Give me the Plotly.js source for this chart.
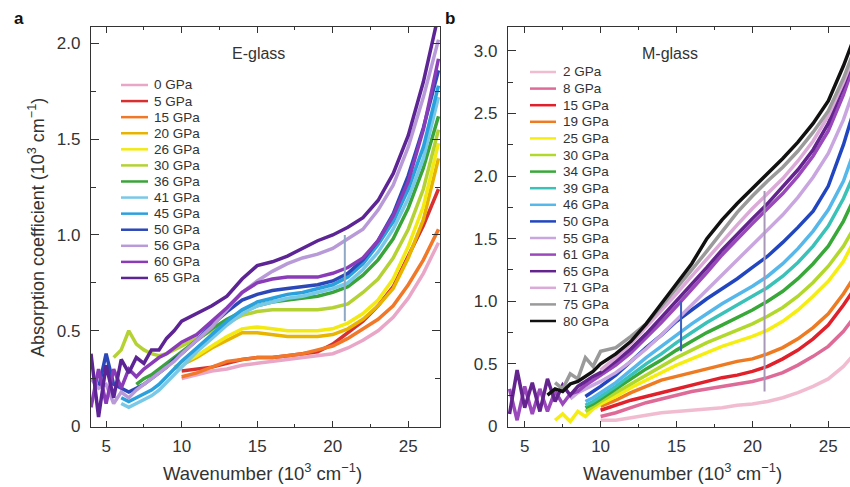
<!DOCTYPE html>
<html><head><meta charset="utf-8">
<script src="https://cdn.plot.ly/plotly-3.0.1.min.js"></script>
<style>html,body{margin:0;padding:0;background:#fff;overflow:hidden}#chart{width:850px;height:487px}</style>
</head><body><div id="chart"></div>
<script>
const N = null;
// shared wavenumber grid (10^3 cm^-1)
const wavenumber = [4,4.5,5,5.5,6,6.5,7,7.5,8,8.5,9,9.5,10,11,12,13,14,15,16,17,18,19,20,21,22,23,24,25,26,27];

// ---- Panel a: E-glass ----
const eGlassLabels = ['0 GPa','5 GPa','15 GPa','20 GPa','26 GPa','30 GPa','36 GPa','41 GPa','45 GPa','50 GPa','56 GPa','60 GPa','65 GPa'];
const eGlassColors = ['#eaa6c6','#d83030','#f07828','#e8b400','#f2ea10','#b4d234','#3aa43a','#78c8e8','#2aa0dc','#2c48b8','#b89ad8','#8a3cb8','#5c2494'];
const eG0  = [N,N,N,N,N,N,N,N,N,N,N,N,0.25,0.27,0.29,0.30,0.32,0.33,0.34,0.35,0.36,0.37,0.38,0.41,0.45,0.50,0.57,0.67,0.80,0.96];
const eG5  = [N,N,N,N,N,N,N,N,N,N,N,N,0.29,0.30,0.31,0.33,0.35,0.36,0.36,0.37,0.38,0.39,0.43,0.49,0.55,0.63,0.73,0.89,1.05,1.24];
const eG15 = [N,N,N,N,N,N,N,N,N,N,N,N,0.26,0.28,0.31,0.34,0.35,0.36,0.36,0.37,0.38,0.40,0.42,0.46,0.51,0.56,0.63,0.74,0.87,1.03];
const eG20 = [N,N,N,N,N,N,N,N,N,N,N,0.30,0.32,0.36,0.41,0.45,0.49,0.49,0.48,0.47,0.47,0.47,0.48,0.51,0.56,0.63,0.72,0.88,1.08,1.40];
const eG26 = [N,N,N,N,N,N,N,N,N,N,N,0.31,0.33,0.37,0.42,0.47,0.51,0.52,0.51,0.50,0.50,0.50,0.51,0.54,0.59,0.66,0.77,0.94,1.15,1.48];
const eG30 = [N,N,N,0.36,0.40,0.50,0.43,0.40,0.38,0.37,0.38,0.40,0.42,0.46,0.50,0.54,0.58,0.60,0.61,0.61,0.61,0.61,0.62,0.64,0.70,0.77,0.88,1.03,1.24,1.55];
const eG36 = [N,N,N,N,N,N,0.22,0.25,0.27,0.30,0.33,0.36,0.39,0.45,0.51,0.56,0.60,0.63,0.65,0.66,0.67,0.68,0.70,0.73,0.79,0.87,0.98,1.14,1.35,1.62];
const eG41 = [N,N,N,N,0.12,0.10,0.12,0.14,0.16,0.19,0.23,0.27,0.31,0.39,0.46,0.53,0.59,0.63,0.65,0.67,0.68,0.70,0.72,0.75,0.82,0.91,1.03,1.19,1.40,1.72];
const eG45 = [N,N,N,N,0.15,0.13,0.15,0.17,0.19,0.22,0.26,0.30,0.34,0.41,0.48,0.55,0.61,0.65,0.67,0.69,0.70,0.72,0.74,0.78,0.85,0.95,1.07,1.24,1.46,1.78];
const eG50 = [N,0.20,0.38,0.22,0.20,0.18,0.20,0.22,0.25,0.28,0.31,0.35,0.38,0.45,0.53,0.60,0.66,0.69,0.71,0.72,0.73,0.74,0.76,0.80,0.87,0.97,1.11,1.31,1.56,1.86];
const eG56 = [0.25,0.20,0.22,0.12,0.18,0.15,0.19,0.22,0.25,0.28,0.31,0.34,0.38,0.45,0.52,0.61,0.70,0.76,0.81,0.85,0.88,0.90,0.93,0.98,1.03,1.13,1.26,1.46,1.72,2.02];
const eG60 = [0.10,0.30,0.12,0.30,0.20,0.30,0.26,0.30,0.33,0.36,0.38,0.41,0.44,0.48,0.55,0.62,0.70,0.75,0.77,0.78,0.78,0.78,0.80,0.83,0.88,0.97,1.10,1.28,1.55,1.92];
const eG65 = [0.38,0.05,0.32,0.15,0.35,0.28,0.36,0.33,0.40,0.40,0.46,0.50,0.55,0.59,0.63,0.68,0.77,0.84,0.86,0.89,0.93,0.97,1.00,1.04,1.09,1.18,1.32,1.52,1.80,2.15];
const eGlassSeries = [eG0,eG5,eG15,eG20,eG26,eG30,eG36,eG41,eG45,eG50,eG56,eG60,eG65];
// measurement artefact (vertical spike) seen in panel a
const eSpikeX = [20.8, 20.8];
const eSpikeY = [0.55, 1.00];

// ---- Panel b: M-glass ----
const mGlassLabels = ['2 GPa','8 GPa','15 GPa','19 GPa','25 GPa','30 GPa','34 GPa','39 GPa','46 GPa','50 GPa','55 GPa','61 GPa','65 GPa','71 GPa','75 GPa','80 GPa'];
const mGlassColors = ['#f2bcd0','#de6a98','#e0202a','#ee7a22','#f6ee10','#b2d82c','#38a838','#3ac2b8','#56b8ea','#2246c0','#c9a6e0','#9a48bc','#64248e','#dcaad8','#9a9a9a','#111111'];
const mG2  = [N,N,N,N,N,N,N,N,N,N,N,N,0.05,0.05,0.07,0.09,0.11,0.12,0.13,0.14,0.15,0.17,0.18,0.20,0.23,0.27,0.32,0.38,0.48,0.62];
const mG8  = [N,N,N,N,N,N,N,N,N,N,N,N,0.08,0.11,0.15,0.19,0.22,0.25,0.28,0.30,0.32,0.34,0.36,0.39,0.43,0.49,0.56,0.64,0.76,0.92];
const mG15 = [N,N,N,N,N,N,N,N,N,N,N,N,0.13,0.17,0.21,0.24,0.27,0.30,0.33,0.36,0.39,0.41,0.44,0.48,0.54,0.61,0.70,0.81,0.97,1.15];
const mG19 = [N,N,N,N,N,N,N,N,N,N,N,N,0.16,0.21,0.27,0.32,0.37,0.40,0.43,0.46,0.49,0.52,0.54,0.58,0.63,0.70,0.79,0.90,1.06,1.25];
const mG25 = [N,N,N,N,N,N,0.05,0.10,0.04,0.12,0.08,0.14,0.18,0.24,0.31,0.37,0.43,0.49,0.54,0.59,0.64,0.68,0.72,0.77,0.84,0.93,1.04,1.16,1.32,1.55];
const mG30 = [N,N,N,N,N,N,N,N,N,N,0.12,0.16,0.20,0.27,0.34,0.41,0.48,0.55,0.61,0.67,0.72,0.77,0.82,0.88,0.95,1.04,1.15,1.28,1.44,1.65];
const mG34 = [N,N,N,N,N,N,N,N,N,N,0.15,0.18,0.22,0.30,0.38,0.46,0.53,0.61,0.68,0.75,0.81,0.87,0.93,1.00,1.08,1.18,1.30,1.44,1.64,1.90];
const mG39 = [N,N,N,N,N,N,N,N,N,N,0.17,0.20,0.24,0.32,0.41,0.50,0.58,0.67,0.75,0.83,0.90,0.97,1.04,1.11,1.20,1.31,1.44,1.60,1.82,2.10];
const mG46 = [N,N,N,N,N,N,N,N,N,N,0.20,0.23,0.27,0.35,0.45,0.55,0.64,0.73,0.82,0.90,0.98,1.05,1.12,1.20,1.30,1.42,1.56,1.73,1.96,2.30];
const mG50 = [N,N,N,N,N,N,N,N,N,N,0.24,0.28,0.32,0.41,0.52,0.63,0.73,0.84,0.93,1.02,1.10,1.18,1.27,1.36,1.47,1.59,1.72,1.92,2.25,2.65];
const mG55 = [N,N,N,N,N,N,N,N,0.22,0.27,0.30,0.33,0.36,0.43,0.52,0.62,0.73,0.85,0.97,1.09,1.21,1.33,1.45,1.57,1.69,1.83,1.99,2.18,2.45,2.80];
const mG61 = [0.30,0.05,0.32,0.10,0.30,0.12,0.28,0.18,0.26,0.28,0.33,0.37,0.41,0.49,0.59,0.71,0.83,0.96,1.09,1.23,1.37,1.50,1.62,1.74,1.86,2.00,2.16,2.36,2.65,3.00];
const mG65 = [0.10,0.45,0.15,0.35,0.12,0.38,0.20,0.33,0.25,0.32,0.36,0.40,0.43,0.52,0.62,0.74,0.87,1.00,1.13,1.27,1.41,1.54,1.66,1.78,1.91,2.05,2.21,2.42,2.72,3.05];
const mG71 = [N,N,N,N,N,N,N,N,N,N,N,N,0.45,0.55,0.66,0.79,0.92,1.06,1.20,1.34,1.48,1.61,1.74,1.86,1.98,2.12,2.28,2.48,2.75,3.05];
const mG75 = [N,N,N,N,N,N,0.35,0.30,0.42,0.38,0.55,0.48,0.60,0.63,0.72,0.82,0.96,1.10,1.25,1.40,1.56,1.71,1.84,1.96,2.07,2.20,2.35,2.52,2.78,3.10];
const mG80 = [N,N,N,N,N,0.25,0.30,0.28,0.34,0.36,0.40,0.44,0.50,0.58,0.68,0.82,0.98,1.14,1.30,1.50,1.65,1.78,1.90,2.02,2.14,2.27,2.42,2.60,2.88,3.20];
const mGlassSeries = [mG2,mG8,mG15,mG19,mG25,mG30,mG34,mG39,mG46,mG50,mG55,mG61,mG65,mG71,mG75,mG80];
// measurement artefacts (vertical spikes) seen in panel b
const mSpike1X = [15.3, 15.3];
const mSpike1Y = [0.60, 1.00];
const mSpike2X = [20.8, 20.8];
const mSpike2Y = [0.28, 1.88];

// tick labels
const xTickVals = [5,10,15,20,25];
const xTickText = ['5','10','15','20','25'];
const yATickVals = [0,0.5,1,1.5,2];
const yATickText = ['0','0.5','1.0','1.5','2.0'];
const yBTickVals = [0,0.5,1,1.5,2,2.5,3];
const yBTickText = ['0','0.5','1.0','1.5','2.0','2.5','3.0'];

const W = 850, H = 487;
const px = x => x / W, py = y => 1 - y / H;
const INK = '#333';
const FONT = 'Liberation Sans, Arial, Helvetica, sans-serif';

const traces = [];
eGlassSeries.forEach((s, i) => traces.push({x: wavenumber, y: s, type: 'scatter', mode: 'lines',
  line: {color: eGlassColors[i], width: 3.5}, xaxis: 'x', yaxis: 'y', hoverinfo: 'skip', showlegend: false}));
traces.push({x: eSpikeX, y: eSpikeY, type: 'scatter', mode: 'lines', line: {color: '#8fa8c4', width: 2},
  xaxis: 'x', yaxis: 'y', hoverinfo: 'skip', showlegend: false});
mGlassSeries.forEach((s, i) => traces.push({x: wavenumber, y: s, type: 'scatter', mode: 'lines',
  line: {color: mGlassColors[i], width: 3.5}, xaxis: 'x2', yaxis: 'y2', hoverinfo: 'skip', showlegend: false}));
traces.push({x: mSpike1X, y: mSpike1Y, type: 'scatter', mode: 'lines', line: {color: '#3a60c0', width: 2},
  xaxis: 'x2', yaxis: 'y2', hoverinfo: 'skip', showlegend: false});
traces.push({x: mSpike2X, y: mSpike2Y, type: 'scatter', mode: 'lines', line: {color: '#a898b8', width: 2},
  xaxis: 'x2', yaxis: 'y2', hoverinfo: 'skip', showlegend: false});

const annotations = [];
const shapes = [];
function legend(labels, colors, x0, x1, xt, y0, dy) {
  labels.forEach((lab, i) => {
    const y = y0 + i * dy;
    shapes.push({type: 'line', xref: 'paper', yref: 'paper', x0: px(x0), x1: px(x1), y0: py(y), y1: py(y),
      line: {color: colors[i], width: 2.5}});
    annotations.push({xref: 'paper', yref: 'paper', x: px(xt), y: py(y), xanchor: 'left', yanchor: 'middle',
      text: lab, showarrow: false, font: {size: 13.5, color: INK, family: FONT}});
  });
}
legend(eGlassLabels, eGlassColors, 121, 148, 152, 85, 16.08);
legend(mGlassLabels, mGlassColors, 530, 556, 561, 72, 16.6);

function txt(x, y, t, size, opts) {
  annotations.push(Object.assign({xref: 'paper', yref: 'paper', x: px(x), y: py(y), xanchor: 'center', yanchor: 'middle',
    text: t, showarrow: false, font: {size: size, color: INK, family: FONT}}, opts || {}));
}
txt(19, 19, '<b>a</b>', 17, {font: {size: 17, color: '#111', family: FONT}});
txt(450, 19, '<b>b</b>', 17, {font: {size: 17, color: '#111', family: FONT}});
txt(258, 53, 'E-glass', 16);
txt(670, 53, 'M-glass', 16);
txt(262, 472, 'Wavenumber (10<sup>3</sup> cm<sup>−1</sup>)', 18.5);
txt(682, 472, 'Wavenumber (10<sup>3</sup> cm<sup>−1</sup>)', 18.5);
txt(36, 228, 'Absorption coefficient (10<sup>3</sup> cm<sup>−1</sup>)', 18, {textangle: -90});

const axCommon = {showline: true, linecolor: INK, linewidth: 1.2, ticks: 'inside', tickcolor: INK, tickwidth: 1,
  showgrid: false, zeroline: false, tickfont: {size: 17, color: INK, family: FONT}, fixedrange: true};
const yDom = [py(426.5), py(27)];

const layout = {
  width: W, height: H, margin: {l: 0, r: 0, t: 0, b: 0}, paper_bgcolor: '#fff', plot_bgcolor: '#fff',
  showlegend: false, font: {family: FONT, color: INK},
  xaxis: Object.assign({}, axCommon, {domain: [px(91), px(440)], range: [4.0, 27.1], anchor: 'y', mirror: 'ticks',
    tickmode: 'array', tickvals: xTickVals, ticktext: xTickText, ticklen: 6, ticklabelstandoff: 4,
    minor: {dtick: 2.5, tick0: 0, ticks: 'inside', ticklen: 3, tickcolor: INK, tickwidth: 1}}),
  yaxis: Object.assign({}, axCommon, {domain: yDom, range: [0, 2.086], anchor: 'x', mirror: 'ticks',
    tickmode: 'array', tickvals: yATickVals, ticktext: yATickText, ticklen: 8, ticklabelstandoff: 6,
    minor: {dtick: 0.25, tick0: 0, ticks: 'inside', ticklen: 5, tickcolor: INK, tickwidth: 1}}),
  xaxis2: Object.assign({}, axCommon, {domain: [px(508), 1], range: [3.9, 26.43], anchor: 'y2', mirror: 'ticks',
    tickmode: 'array', tickvals: xTickVals, ticktext: xTickText, ticklen: 6, ticklabelstandoff: 4,
    minor: {dtick: 2.5, tick0: 0, ticks: 'inside', ticklen: 3, tickcolor: INK, tickwidth: 1}}),
  yaxis2: Object.assign({}, axCommon, {domain: yDom, range: [0, 3.19], anchor: 'x2', mirror: false,
    tickmode: 'array', tickvals: yBTickVals, ticktext: yBTickText, ticklen: 8, ticklabelstandoff: 6,
    minor: {dtick: 0.25, tick0: 0, ticks: 'inside', ticklen: 5, tickcolor: INK, tickwidth: 1}}),
  annotations: annotations, shapes: shapes
};
Plotly.newPlot('chart', traces, layout, {displayModeBar: false, staticPlot: true});
</script></body></html>
